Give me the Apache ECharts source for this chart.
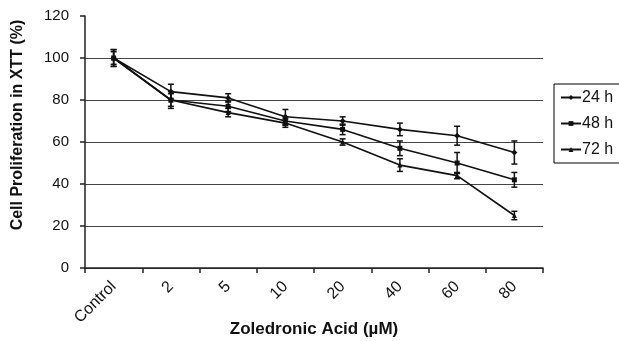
<!DOCTYPE html>
<html>
<head>
<meta charset="utf-8">
<script src="https://cdn.jsdelivr.net/npm/echarts@6/dist/echarts.min.js"></script>
<style>
  html, body { margin: 0; padding: 0; background: #fff; }
  #main { width: 619px; height: 341px; }
</style>
</head>
<body>
<div id="main"></div>
<script>
// 数据
var categories = ['Control', '2', '5', '10', '20', '40', '60', '80'];
var yTicks = [0, 20, 40, 60, 80, 100, 120];
var h24 = [100, 84, 81, 72, 70, 66, 63, 55];
var h24Err = [4, 3.5, 2, 3.5, 2, 3, 4.5, 5.5];
var h48 = [100, 80, 77, 70, 66, 57, 50, 42];
var h48Err = [4, 4, 2.5, 2, 2.5, 3.5, 5, 3.5];
var h72 = [100, 80, 74, 69, 60, 49, 44, 25];
var h72Err = [3, 3, 2, 2, 1.5, 3, 1.5, 2];

var font = 'Liberation Sans, Arial, sans-serif';
var ink = '#111';

function errData(vals, errs) {
    return vals.map(function (v, i) { return [i, v - errs[i], v + errs[i]]; });
}

// 误差线
function renderErr(params, api) {
    var lo = api.coord([api.value(0), api.value(1)]);
    var hi = api.coord([api.value(0), api.value(2)]);
    var x = lo[0], w = 3;
    var st = { stroke: ink, lineWidth: 1.5 };
    return {
        type: 'group',
        children: [
            { type: 'line', shape: { x1: x, y1: lo[1], x2: x, y2: hi[1] }, style: st },
            { type: 'line', shape: { x1: x - w, y1: lo[1], x2: x + w, y2: lo[1] }, style: st },
            { type: 'line', shape: { x1: x - w, y1: hi[1], x2: x + w, y2: hi[1] }, style: st }
        ]
    };
}

function lineSeries(name, data, symbol, size) {
    return {
        name: name,
        type: 'line',
        data: data,
        symbol: symbol,
        symbolSize: size,
        showSymbol: true,
        itemStyle: { color: ink },
        lineStyle: { color: ink, width: 1.6 },
        emphasis: { disabled: true },
        z: 3
    };
}

function errSeries(name, vals, errs) {
    return {
        name: name,
        type: 'custom',
        renderItem: renderErr,
        data: errData(vals, errs),
        z: 4,
        silent: true
    };
}

var myChart = echarts.init(document.getElementById('main'));
var option = {
    animation: false,
    grid: { left: 85, right: 76, top: 16, bottom: 73, containLabel: false, outerBoundsMode: 'none' },
    legend: {
        data: ['24 h', '48 h', '72 h'],
        orient: 'vertical',
        left: 554,
        top: 84,
        padding: [5, 40, 5, 6],
        itemGap: 9,
        itemWidth: 20,
        itemHeight: 6,
        borderColor: '#000',
        borderWidth: 1,
        textStyle: { fontFamily: font, fontSize: 16, lineHeight: 17, color: ink, padding: [0, 0, 0, -4] }
    },
    xAxis: {
        type: 'category',
        data: categories,
        name: 'Zoledronic Acid (µM)',
        nameLocation: 'middle',
        nameGap: 53,
        nameMoveOverlap: false,
        nameTextStyle: { fontFamily: font, fontSize: 17, fontWeight: 'bold', color: ink },
        axisLine: { lineStyle: { color: '#222', width: 1.5 } },
        axisTick: { show: true, length: 5, lineStyle: { color: '#222', width: 1.5 } },
        axisLabel: { rotate: 45, margin: 16, fontFamily: font, fontSize: 16, color: ink, interval: 0 }
    },
    yAxis: {
        type: 'value',
        min: yTicks[0],
        max: yTicks[yTicks.length - 1],
        interval: 20,
        name: 'Cell Proliferation in XTT (%)',
        nameLocation: 'middle',
        nameGap: 59,
        nameMoveOverlap: false,
        nameTextStyle: { fontFamily: font, fontSize: 16, fontWeight: 'bold', color: ink, padding: [0, 0, 0, 34] },
        axisLine: { show: true, lineStyle: { color: '#222', width: 1.5 } },
        axisTick: { show: true, length: 5, lineStyle: { color: '#222', width: 1.5 } },
        axisLabel: { margin: 16, fontFamily: font, fontSize: 15, color: ink,
            formatter: function (v) { return yTicks.indexOf(v) >= 0 ? String(v) : ''; } },
        splitLine: {
            show: true,
            lineStyle: { color: '#444', width: 1.2 },
            showMaxLine: false
        }
    },
    series: [
        lineSeries('24 h', h24, 'diamond', 6),
        lineSeries('48 h', h48, 'rect', 5),
        lineSeries('72 h', h72, 'triangle', 5),
        errSeries('e24', h24, h24Err),
        errSeries('e48', h48, h48Err),
        errSeries('e72', h72, h72Err)
    ]
};
myChart.setOption(option);

window.onresize = function () {
    myChart.resize();
};
</script>
</body>
</html>
